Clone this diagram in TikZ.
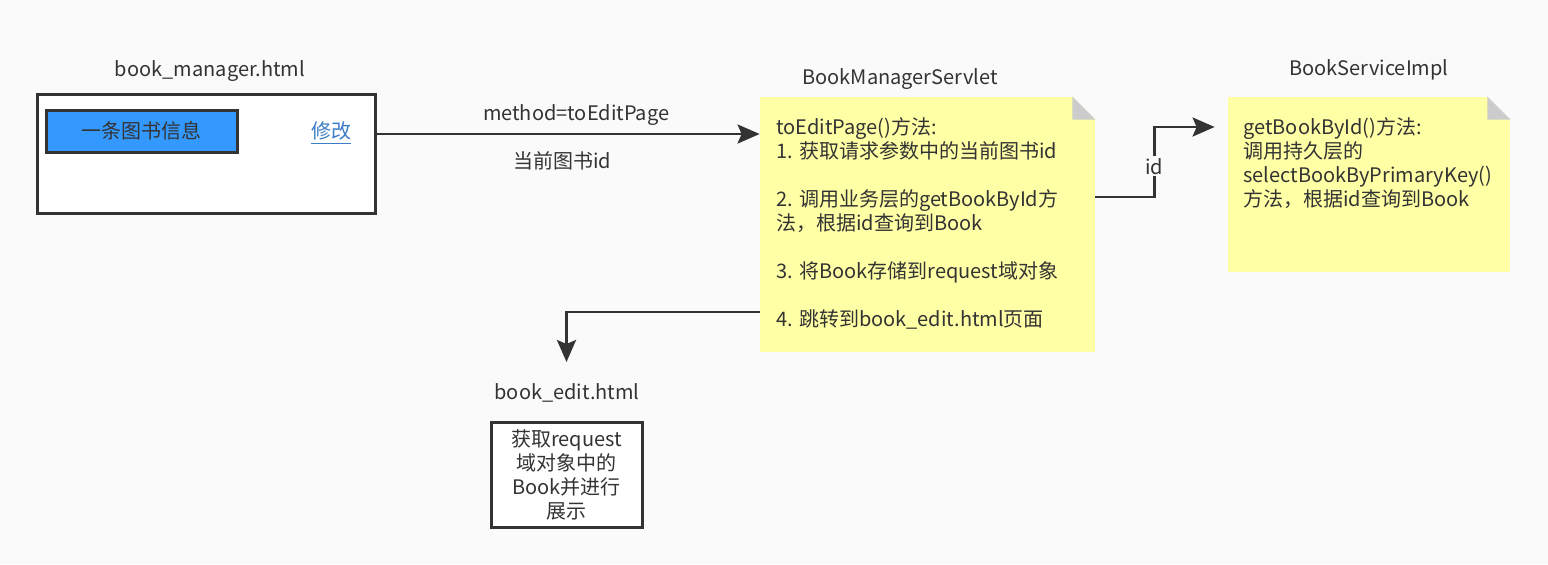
\documentclass[tikz,border=0pt]{standalone}
\usepackage{fontspec}
\setmainfont{Noto Sans CJK SC}
\usetikzlibrary{arrows.meta}
\definecolor{bg}{RGB}{250,250,250}
\definecolor{line}{RGB}{51,51,51}
\definecolor{notey}{RGB}{255,255,166}
\definecolor{fold}{RGB}{204,204,204}
\definecolor{rowblue}{RGB}{51,153,255}
\definecolor{link}{RGB}{60,125,200}
\begin{document}
\begin{tikzpicture}[x=0.5pt,y=-0.5pt,
  every node/.style={font=\fontsize{10}{12}\selectfont,text=line},
  page/.style={draw=line,line width=1.5pt,fill=white,inner sep=0},
  note/.style={fill=notey,inner sep=0},
  notetext/.style={anchor=north west,align=left,inner sep=0},
  conn/.style={draw=line,line width=1.4pt,-{Stealth[length=11pt,width=9.5pt,inset=2pt]}}]
\fill[bg](0,0)rectangle(1548,564);
\useasboundingbox(0,0)rectangle(1548,564);
%
\node[page,minimum width=169pt,minimum height=59.5pt](manager)at(206,153.5){};
\node[page,fill=rowblue,minimum width=95.5pt,minimum height=21pt](row)at(141.5,131){一条图书信息};
\node[text=link](modify)at(331,133){\underline{修改}};
\node(managertitle)at(210,71){book\_manager.html};
%
\node[note,minimum width=167.5pt,minimum height=127.5pt](servlet)at(927.5,224.5){};
\fill[bg](servlet.north east)--++(-23,0)--++(23,23)--cycle;
\fill[fold](servlet.north east)++(-23,0)--++(0,23)--++(23,0)--cycle;
\node(servlettitle)at(900,79){BookManagerServlet};
\node[notetext](servlettext)at(776,117){toEditPage()方法:\\1. 获取请求参数中的当前图书id\\[12pt]
  2. 调用业务层的getBookById方\\法，根据id查询到Book\\[12pt]
  3. 将Book存储到request域对象\\[12pt]4. 跳转到book\_edit.html页面};
%
\node[note,minimum width=141pt,minimum height=87.5pt](service)at(1369,184.5){};
\fill[bg](service.north east)--++(-23,0)--++(23,23)--cycle;
\fill[fold](service.north east)++(-23,0)--++(0,23)--++(23,0)--cycle;
\node(servicetitle)at(1369,70){BookServiceImpl};
\node[notetext](servicetext)at(1243,117){getBookById()方法:\\调用持久层的\\selectBookByPrimaryKey()\\方法，根据id查询到Book};
%
\node[page,minimum width=75.5pt,minimum height=52.5pt,align=center](edit)at(566.5,475){获取request\\域对象中的\\Book并进行\\展示};
\node(edittitle)at(567,393){book\_edit.html};
%
\draw[conn]([yshift=9.75pt]manager.east)--([yshift=9.75pt]manager.east-|servlet.west)
  node[midway,above=0pt,xshift=4pt]{method=toEditPage}node[midway,below=5pt,xshift=-3pt]{当前图书id};
\draw[conn]([yshift=13.75pt]servlet.east)--++(59,0)|-([xshift=-6.5pt,yshift=28.75pt]service.west)
  node[pos=0.22,fill=bg,inner sep=1pt]{id};
\draw[conn]([yshift=-43.75pt]servlet.west)-|([yshift=29.5pt]edit.north);
\end{tikzpicture}
\end{document}
